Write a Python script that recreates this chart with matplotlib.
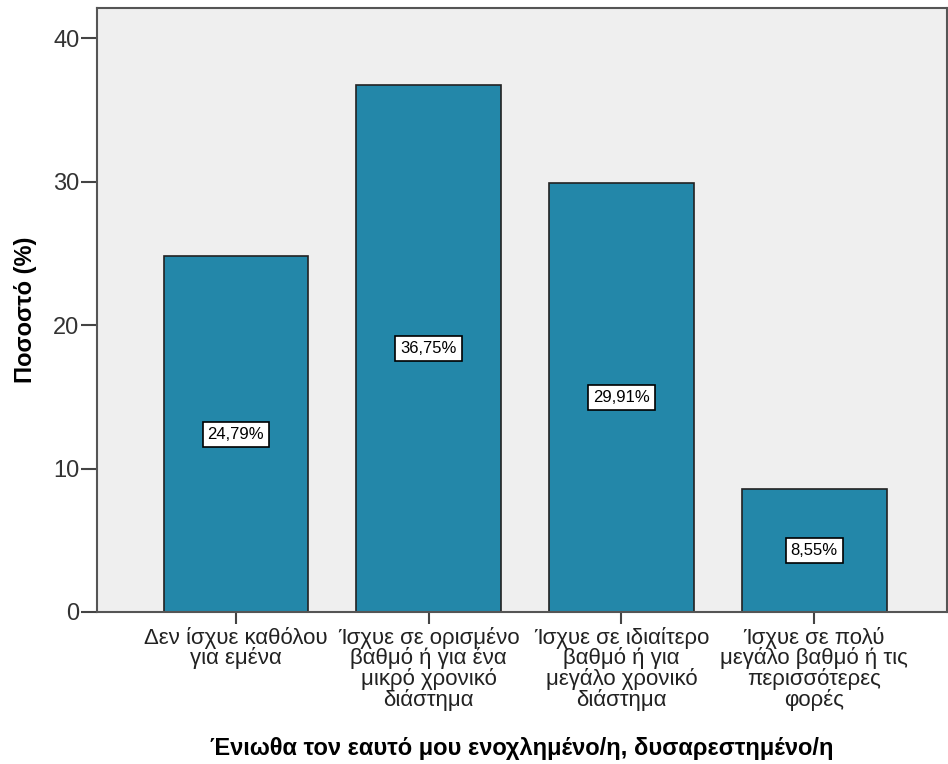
import matplotlib.pyplot as plt

categories = [
    "Δεν ίσχυε καθόλου\nγια εμένα",
    "Ίσχυε σε ορισμένο\nβαθμό ή για ένα\nμικρό χρονικό\nδιάστημα",
    "Ίσχυε σε ιδιαίτερο\nβαθμό ή για\nμεγάλο χρονικό\nδιάστημα",
    "Ίσχυε σε πολύ\nμεγάλο βαθμό ή τις\nπερισσότερες\nφορές",
]
percent = [24.79, 36.75, 29.91, 8.55]
y_ticks = [0, 10, 20, 30, 40]

plt.rcParams['font.family'] = ['Liberation Sans', 'DejaVu Sans']

fig = plt.figure(figsize=(9.48, 7.64), dpi=100)
ax = fig.add_axes([0.1023, 0.199, 0.897, 0.7905])
ax.set_facecolor('#efefef')

x = range(len(categories))
bars = ax.bar(x, percent, width=0.75, color='#2387a9', edgecolor='#222222', linewidth=1.2)

# value labels in white boxes at mid height
for b, v in zip(bars, percent):
    ax.text(b.get_x() + b.get_width() / 2, v / 2, f"{v:.2f}%".replace('.', ','),
            ha='center', va='center', fontsize=12, color='black',
            bbox=dict(boxstyle='square,pad=0.3', facecolor='white', edgecolor='black', linewidth=1.2))

ax.set_xlim(-0.72, 3.69)
ax.set_ylim(0, 42.1)
ax.set_yticks(y_ticks)
ax.set_xticks(list(x))
ax.set_xticklabels(categories, fontsize=16, color='#222222', linespacing=0.93)
ax.tick_params(axis='y', labelsize=17, labelcolor='#333333', length=11.5, width=1.5,
               color='#444444', pad=1)
ax.tick_params(axis='x', length=8.5, width=1.5, color='#444444', pad=2)

for s in ax.spines.values():
    s.set_color('#555555')
    s.set_linewidth(1.5)

ax.set_ylabel('Ποσοστό (%)', fontsize=17, fontweight='bold', labelpad=12)
ax.set_xlabel('Ένιωθα τον εαυτό μου ενοχλημένο/η, δυσαρεστημένο/η', fontsize=17,
              fontweight='bold', labelpad=19)

fig.savefig('out.png', dpi=100)
